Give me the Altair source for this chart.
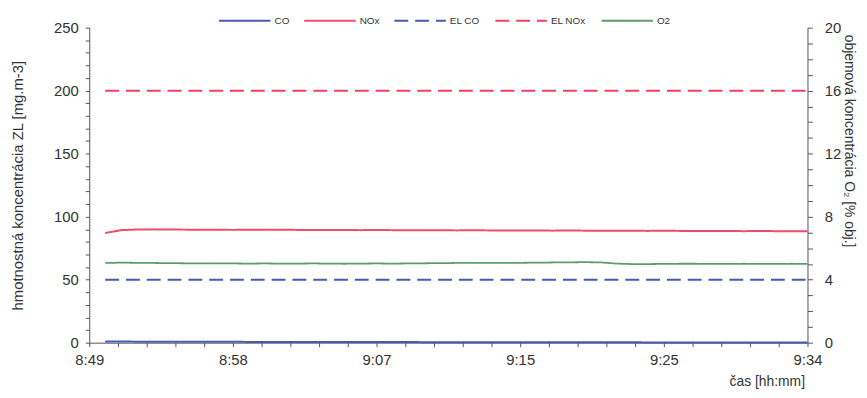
import altair as alt
import pandas as pd

# minutes after 8:49 (8:50 .. 9:34)
minutes = list(range(1, 46))

co = [0.9, 0.9, 0.8, 0.8, 0.8, 0.7, 0.7, 0.7, 0.7, 0.6, 0.6, 0.6, 0.6, 0.6, 0.5,
      0.5, 0.5, 0.5, 0.5, 0.5, 0.4, 0.4, 0.4, 0.4, 0.4, 0.4, 0.4, 0.3, 0.3, 0.3,
      0.3, 0.3, 0.3, 0.3, 0.2, 0.2, 0.2, 0.2, 0.2, 0.2, 0.2, 0.1, 0.1, 0.1, 0.1]
nox = [87.0, 89.3, 89.8, 89.9, 89.8, 89.7, 89.6, 89.6, 89.5, 89.6, 89.7, 89.6, 89.5, 89.4, 89.5,
       89.4, 89.3, 89.4, 89.3, 89.2, 89.3, 89.2, 89.1, 89.2, 89.1, 89.0, 89.1, 89.0, 88.9, 89.0,
       88.9, 88.8, 88.9, 88.8, 88.7, 88.8, 88.7, 88.6, 88.7, 88.6, 88.5, 88.6, 88.5, 88.4, 88.4]
el_co = [50] * 45
el_nox = [200] * 45
o2 = [5.06, 5.08, 5.07, 5.06, 5.05, 5.04, 5.04, 5.03, 5.03, 5.02, 5.03, 5.02, 5.02, 5.03, 5.02,
      5.01, 5.02, 5.03, 5.02, 5.03, 5.04, 5.05, 5.06, 5.06, 5.07, 5.06, 5.07, 5.08, 5.09, 5.10,
      5.11, 5.10, 5.02, 4.99, 4.99, 5.00, 5.01, 5.01, 5.00, 5.00, 5.01, 5.00, 5.00, 5.01, 5.00]

x_tick_labels = ["8:49", "8:58", "9:07", "9:15", "9:25", "9:34"]
x_tick_values = [round(i * 1.8, 1) for i in range(26)]
left_tick_values = list(range(0, 251, 10))
right_tick_values = list(range(0, 21))

series_names = ["CO", "NOx", "EL CO", "EL NOx", "O2"]
series_colors = ["#4a5ab4", "#ef4d68", "#4a5ab4", "#f0425f", "#5f9d68"]
series_dash = [[1, 0], [1, 0], [14, 7], [14, 7], [1, 0]]

rows_left = []
for name, vals in [("CO", co), ("NOx", nox), ("EL CO", el_co), ("EL NOx", el_nox)]:
    for m, v in zip(minutes, vals):
        rows_left.append({"t": m, "v": v, "s": name})
df_left = pd.DataFrame(rows_left)
df_right = pd.DataFrame({"t": minutes, "v": o2, "s": ["O2"] * len(minutes)})

FONT = "Liberation Sans"
AX = "#555555"
TXT = "#333333"

label_arr = "[" + ",".join("'" + s + "'" for s in x_tick_labels) + "]"
x_enc = alt.X(
    "t:Q",
    scale=alt.Scale(domain=[0, 45], nice=False, zero=False),
    axis=alt.Axis(
        values=x_tick_values,
        labelExpr="datum.value % 9 === 0 ? " + label_arr + "[datum.value / 9] : ''",
        title="čas [hh:mm]",
        titleX=722, titleY=39, titleAlign="right", titleBaseline="middle",
        titleFont=FONT, titleFontSize=14, titleFontWeight="normal", titleColor=TXT,
        labelFont=FONT, labelFontSize=15, labelColor=TXT, labelPadding=6,
        tickSize=4, tickColor=AX, domainColor=AX, grid=False, labelFlush=False,
    ),
)

legend = alt.Legend(
    title=None, orient="none", legendX=130, legendY=-34, direction="horizontal",
    symbolType="stroke", symbolSize=2700, symbolStrokeWidth=2,
    labelFont=FONT, labelFontSize=10, labelColor=TXT, labelOffset=3,
    columnPadding=11, padding=0,
)
color_enc = alt.Color("s:N", scale=alt.Scale(domain=series_names, range=series_colors), legend=legend)
dash_enc = alt.StrokeDash("s:N", scale=alt.Scale(domain=series_names, range=series_dash), legend=legend)

left = alt.Chart(df_left).mark_line(strokeWidth=2).encode(
    x=x_enc,
    y=alt.Y(
        "v:Q",
        scale=alt.Scale(domain=[0, 250], nice=False),
        axis=alt.Axis(
            orient="left", values=left_tick_values,
            labelExpr="datum.value % 50 === 0 ? datum.label : ''",
            title="hmotnostná koncentrácia ZL [mg.m-3]",
            titleX=-72, titleY=159, titleAngle=270, titleBaseline="middle", titleAlign="center",
            titleFont=FONT, titleFontSize=15, titleFontWeight="normal", titleColor=TXT,
            labelFont=FONT, labelFontSize=15, labelColor=TXT, labelPadding=7,
            tickSize=4, tickColor=AX, domainColor=AX, grid=False,
        ),
    ),
    color=color_enc,
    strokeDash=dash_enc,
)

right = alt.Chart(df_right).mark_line(strokeWidth=1.8).encode(
    x=x_enc,
    y=alt.Y(
        "v:Q",
        scale=alt.Scale(domain=[0, 20], nice=False),
        axis=alt.Axis(
            orient="right", values=right_tick_values,
            labelExpr="datum.value % 4 === 0 ? datum.label : ''",
            title="objemová koncentrácia O₂ [% obj.]",
            titleX=41, titleY=114, titleAngle=90, titleBaseline="middle", titleAlign="center",
            titleFont=FONT, titleFontSize=14, titleFontWeight="normal", titleColor=TXT,
            labelFont=FONT, labelFontSize=15, labelColor=TXT, labelPadding=12,
            tickSize=5, tickColor=AX, domainColor=AX, grid=False,
        ),
    ),
    color=color_enc,
    strokeDash=dash_enc,
)

chart = (
    alt.layer(left, right)
    .resolve_scale(y="independent")
    .properties(
        width=725, height=318,
        autosize=alt.AutoSizeParams(type="none"),
        padding={"left": 82, "top": 18, "right": 52, "bottom": 50},
        background="white",
    )
    .configure_view(stroke=None)
)

chart.save("out.html", embed_options={"renderer": "svg", "actions": False})
